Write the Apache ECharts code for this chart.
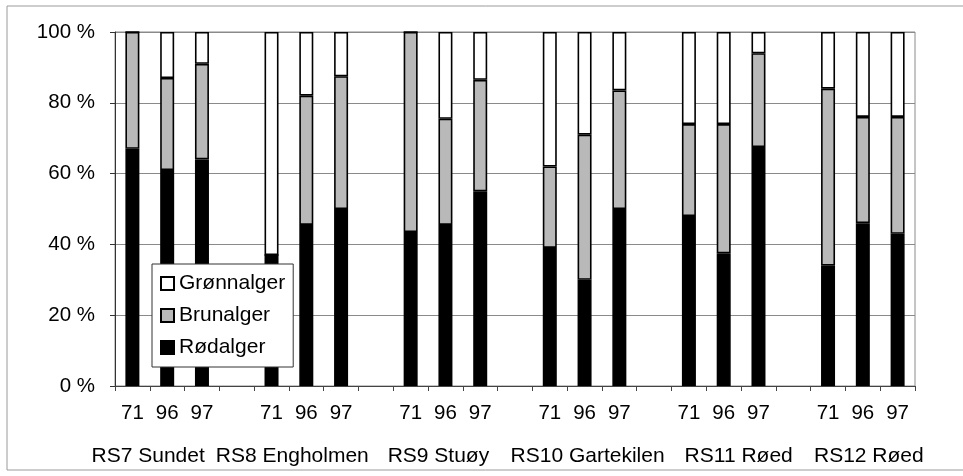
<!DOCTYPE html>
<html>
<head>
<meta charset="utf-8">
<script src="https://cdn.jsdelivr.net/npm/echarts@6/dist/echarts.min.js"></script>
<style>html,body{margin:0;padding:0;background:#fff;}#c{width:963px;height:476px;}</style>
</head>
<body>
<div id="c"></div>
<script>
var groups = ['RS7 Sundet', 'RS8 Engholmen', 'RS9 Stuøy', 'RS10 Gartekilen', 'RS11 Røed', 'RS12 Røed'];
var years = ['71', '96', '97'];
// values per group, per year (71, 96, 97), in percent
var rodalger  = [[67, 61, 64], [37, 45.5, 50], [43.5, 45.5, 55], [39, 30, 50], [48, 37.5, 67.5], [34, 46, 43]];
var brunalger = [[33, 26, 27], [0, 36.5, 37.5], [56.5, 30, 31.5], [23, 41, 33.5], [26, 36.5, 26.5], [50, 30, 33]];
var gronnalger = [[0, 13, 9], [63, 18, 12.5], [0, 24.5, 13.5], [38, 29, 16.5], [26, 26, 6], [16, 24, 24]];

var cats = [], rd = [], br = [], gr = [];
groups.forEach(function (g, gi) {
  years.forEach(function (y, yi) {
    cats.push(g + '|' + y);
    rd.push(rodalger[gi][yi]);
    br.push(brunalger[gi][yi]);
    gr.push(gronnalger[gi][yi]);
  });
  if (gi < groups.length - 1) {
    cats.push('gap' + gi);
    rd.push(null); br.push(null); gr.push(null);
  }
});

var FONT = '"Liberation Sans", Arial, sans-serif';
var chart = echarts.init(document.getElementById('c'), null, {renderer: 'canvas'});
var rich = {};
var shifts = [-19, -14, -7, 3, 15, 6];
shifts.forEach(function (s, i) {
  rich['g' + i] = {
    fontSize: 21, fontFamily: FONT, color: '#000',
    padding: s < 0 ? [0, -2 * s, 0, 0] : [0, 0, 0, 2 * s]
  };
});

var barCommon = {
  type: 'bar', stack: 'tot', barWidth: 14,
  emphasis: {disabled: true}
};

chart.setOption({
  animation: false,
  backgroundColor: '#fff',
  textStyle: {fontFamily: FONT},
  graphic: [{
    type: 'rect', silent: true,
    shape: {x: 7, y: 6, width: 980, height: 464},
    style: {fill: null, stroke: '#9a9a9a', lineWidth: 1}
  }],
  grid: {left: 115, right: 48, top: 32, bottom: 90, show: true, borderColor: '#8a8a8a', borderWidth: 1, backgroundColor: 'transparent'},
  legend: {
    orient: 'vertical', left: 152, top: 264,
    data: ['Grønnalger', 'Brunalger', 'Rødalger'],
    icon: 'rect', itemWidth: 13, itemHeight: 13, itemGap: 11,
    padding: [9, 8, 9, 8],
    backgroundColor: '#fff', borderColor: '#333', borderWidth: 1,
    textStyle: {fontSize: 21, fontFamily: FONT, color: '#000'},
    selectedMode: false
  },
  xAxis: [{
    type: 'category', data: cats,
    axisLine: {lineStyle: {color: '#444', width: 1}},
    axisTick: {show: true, length: 5, interval: 0, lineStyle: {color: '#444'}},
    axisLabel: {
      interval: 0, margin: 17, fontSize: 20.5, fontFamily: FONT, color: '#000',
      formatter: function (v) { return v.indexOf('|') >= 0 ? v.split('|')[1] : ''; }
    },
    splitLine: {show: false}
  }, {
    type: 'category', data: cats, position: 'bottom', offset: 47,
    axisLine: {show: false}, axisTick: {show: false},
    axisLabel: {
      interval: 0, margin: 13, rich: rich, fontSize: 21, color: '#000',
      formatter: function (v, idx) {
        if (v.indexOf('|') < 0) return '';
        var parts = v.split('|');
        if (parts[1] !== years[1]) return '';
        var gi = groups.indexOf(parts[0]);
        return '{g' + gi + '|' + parts[0] + '}';
      }
    }
  }],
  yAxis: {
    type: 'value', min: 0, max: 100, interval: 20,
    axisLine: {show: true, lineStyle: {color: '#333', width: 1}},
    axisTick: {show: true, length: 5, lineStyle: {color: '#333'}},
    axisLabel: {formatter: '{value} %', fontSize: 20.5, fontFamily: FONT, color: '#000', margin: 20},
    splitLine: {show: true, lineStyle: {color: '#8a8a8a', width: 1}}
  },
  series: [
    Object.assign({}, barCommon, {name: 'Rødalger', data: rd, itemStyle: {color: '#000', borderColor: '#000', borderWidth: 1.6}}),
    Object.assign({}, barCommon, {name: 'Brunalger', data: br, itemStyle: {color: '#b9b9b9', borderColor: '#000', borderWidth: 1.6}}),
    Object.assign({}, barCommon, {name: 'Grønnalger', data: gr, itemStyle: {color: '#fff', borderColor: '#000', borderWidth: 1.6}})
  ]
});
</script>
</body>
</html>
